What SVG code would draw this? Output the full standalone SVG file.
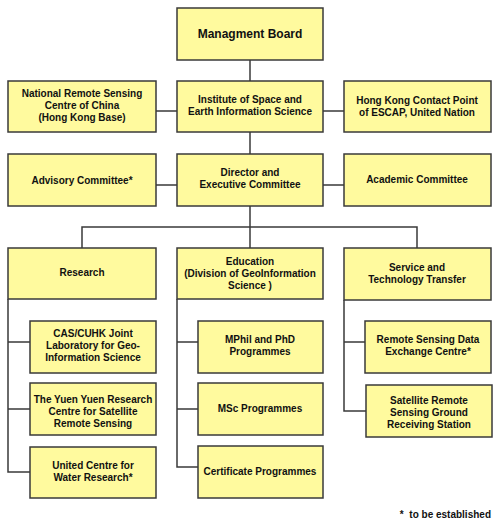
<svg xmlns="http://www.w3.org/2000/svg" width="500" height="524" viewBox="0 0 500 524">
<style>
.box{fill:#FFFA9E;stroke:#3a3a3a;stroke-width:1.5}
.t{font-family:"Liberation Sans",Arial,sans-serif;font-weight:bold;font-size:10px;fill:#111;text-anchor:middle}
.big{font-size:12px}
.c{fill:none;stroke:#3a3a3a;stroke-width:1.5}
</style>
<rect width="500" height="524" fill="#fff"/>
<g id="connectors" class="c">
<path d="M250 60V248"/>
<path d="M156 111H177M323 111H344"/>
<path d="M156 185H177M323 185H344"/>
<path d="M82 248V227H417V248"/>
<path d="M8 299V472H30M8 342H30M8 409H30"/>
<path d="M177 299V467H198M177 342H198M177 409H198"/>
<path d="M344 300V411H366M344 342H365"/>
</g>
<g id="board"><rect class="box" x="177" y="8" width="146" height="52"/><text class="t big" x="250" y="38">Managment Board</text></g>
<g id="nrsc"><rect class="box" x="8" y="81" width="148" height="51"/><text class="t" x="82" y="97">National Remote Sensing</text><text class="t" x="82" y="109">Centre of China</text><text class="t" x="82" y="121">(Hong Kong Base)</text></g>
<g id="institute"><rect class="box" x="177" y="81" width="146" height="51"/><text class="t" x="250" y="103">Institute of Space and</text><text class="t" x="250" y="115">Earth Information Science</text></g>
<g id="escap"><rect class="box" x="344" y="81" width="147" height="51"/><text class="t" x="417" y="104">Hong Kong Contact Point</text><text class="t" x="417" y="116">of ESCAP, United Nation</text></g>
<g id="advisory"><rect class="box" x="8" y="154" width="148" height="52"/><text class="t" x="82" y="184">Advisory Committee*</text></g>
<g id="director"><rect class="box" x="177" y="154" width="146" height="52"/><text class="t" x="250" y="176">Director and</text><text class="t" x="250" y="188">Executive Committee</text></g>
<g id="academic"><rect class="box" x="344" y="154" width="147" height="52"/><text class="t" x="417" y="183">Academic Committee</text></g>
<g id="research"><rect class="box" x="8" y="248" width="148" height="51"/><text class="t" x="82" y="276">Research</text></g>
<g id="education"><rect class="box" x="177" y="248" width="146" height="51"/><text class="t" x="250" y="265">Education</text><text class="t" x="250" y="277">(Division of GeoInformation</text><text class="t" x="250" y="289">Science )</text></g>
<g id="service"><rect class="box" x="344" y="248" width="147" height="52"/><text class="t" x="417" y="271">Service and</text><text class="t" x="417" y="283">Technology Transfer</text></g>
<g id="cas"><rect class="box" x="30" y="321" width="126" height="52"/><text class="t" x="93" y="337">CAS/CUHK Joint</text><text class="t" x="93" y="349">Laboratory for Geo-</text><text class="t" x="93" y="361">Information Science</text></g>
<g id="yuen"><rect class="box" x="30" y="383" width="126" height="52"/><text class="t" x="93" y="403">The Yuen Yuen Research</text><text class="t" x="93" y="415">Centre for Satellite</text><text class="t" x="93" y="427">Remote Sensing</text></g>
<g id="water"><rect class="box" x="30" y="447" width="126" height="51"/><text class="t" x="93" y="469">United Centre for</text><text class="t" x="93" y="481">Water Research*</text></g>
<g id="mphil"><rect class="box" x="198" y="321" width="125" height="52"/><text class="t" x="260" y="343">MPhil and PhD</text><text class="t" x="260" y="355">Programmes</text></g>
<g id="msc"><rect class="box" x="198" y="383" width="125" height="52"/><text class="t" x="260" y="412">MSc Programmes</text></g>
<g id="cert"><rect class="box" x="198" y="446" width="125" height="52"/><text class="t" x="260" y="475">Certificate Programmes</text></g>
<g id="rsdec"><rect class="box" x="365" y="321" width="126" height="52"/><text class="t" x="428" y="343">Remote Sensing Data</text><text class="t" x="428" y="355">Exchange Centre*</text></g>
<g id="satellite"><rect class="box" x="366" y="385" width="126" height="52"/><text class="t" x="429" y="404">Satellite Remote</text><text class="t" x="429" y="416">Sensing Ground</text><text class="t" x="429" y="428">Receiving Station</text></g>
<text class="t" x="491" y="518" style="text-anchor:end;white-space:pre">*  to be established</text>
</svg>
